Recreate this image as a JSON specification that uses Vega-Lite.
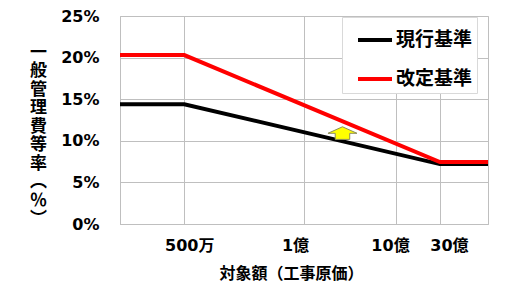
{
  "$schema": "https://vega.github.io/schema/vega-lite/v6.json",
  "width": 368,
  "height": 208,
  "autosize": {"type": "none"},
  "padding": {"left": 120, "top": 16, "right": 40, "bottom": 70},
  "background": "white",
  "config": {
    "view": {"stroke": "#bfbfbf", "strokeWidth": 1},
    "font": "DejaVu Sans"
  },
  "datasets": {
    "lines": [
      {"series": "現行基準", "amount": 1000000, "rate": 0.144},
      {"series": "現行基準", "amount": 5000000, "rate": 0.144},
      {"series": "現行基準", "amount": 3000000000, "rate": 0.072},
      {"series": "現行基準", "amount": 10000000000, "rate": 0.072},
      {"series": "改定基準", "amount": 1000000, "rate": 0.203},
      {"series": "改定基準", "amount": 5000000, "rate": 0.203},
      {"series": "改定基準", "amount": 3000000000, "rate": 0.0745},
      {"series": "改定基準", "amount": 10000000000, "rate": 0.0745}
    ],
    "arrow": [
      {"amount": 262000000, "rate": 0.109}
    ]
  },
  "layer": [
    {
      "data": {"name": "lines"},
      "mark": {"type": "line", "strokeWidth": 4, "clip": true},
      "encoding": {
        "x": {
          "field": "amount", "type": "quantitative",
          "scale": {"type": "log", "domain": [1000000, 10000000000], "nice": false},
          "axis": {
            "values": [5000000, 100000000, 1000000000, 3000000000],
            "labelExpr": "datum.value == 5000000 ? '500万' : datum.value == 100000000 ? '1億' : datum.value == 1000000000 ? '10億' : '30億'",
            "grid": true, "gridColor": "#bfbfbf", "gridWidth": 1,
            "domainColor": "#bfbfbf", "ticks": false,
            "labelFont": "DejaVu Sans, Noto Sans CJK JP", "labelFontWeight": "bold", "labelFontSize": 16,
            "labelColor": "black", "labelPadding": 13, "labelBaseline": "top",
            "labelOffset": {"condition": [
              {"test": "datum.value < 10000000", "value": 5},
              {"test": "datum.value < 200000000", "value": -9},
              {"test": "datum.value < 2000000000", "value": -6}
            ], "value": 9},
            "title": "対象額（工事原価）",
            "titleFont": "Noto Sans CJK JP", "titleFontWeight": "bold", "titleFontSize": 16,
            "titleColor": "black", "titleX": 171, "titleY": 49, "titleBaseline": "middle", "titleAlign": "center"
          }
        },
        "y": {
          "field": "rate", "type": "quantitative",
          "scale": {"domain": [0, 0.25], "nice": false},
          "axis": {
            "values": [0, 0.05, 0.1, 0.15, 0.2, 0.25],
            "format": ".0%",
            "grid": true, "gridColor": "#bfbfbf", "gridWidth": 1,
            "domainColor": "#bfbfbf", "ticks": false,
            "labelFont": "DejaVu Sans", "labelFontWeight": "bold", "labelFontSize": 16,
            "labelColor": "black", "labelPadding": 21,
            "title": ["一", "般", "管", "理", "費", "等", "率", "︵", "％", "︶"],
            "titleAngle": 0, "titleAlign": "center", "titleBaseline": "top",
            "titleX": -82, "titleY": 28, "titleLineHeight": 18.5,
            "titleFont": "Noto Sans CJK JP", "titleFontWeight": "bold", "titleFontSize": 17, "titleColor": "black"
          }
        },
        "color": {
          "field": "series", "type": "nominal",
          "scale": {"domain": ["現行基準", "改定基準"], "range": ["#000000", "#ff0000"]},
          "legend": {
            "title": null, "orient": "none", "legendX": 222, "legendY": 1,
            "fillColor": "white", "strokeColor": "#d9d9d9", "padding": 4,
            "symbolType": "stroke", "symbolSize": 1156, "symbolStrokeWidth": 4, "symbolOffset": 10,
            "labelFont": "Noto Sans CJK JP", "labelFontWeight": "bold", "labelFontSize": 19,
            "labelColor": "black", "labelOffset": 2, "rowPadding": 10
          }
        },
        "order": {"field": "amount", "type": "quantitative"}
      }
    },
    {
      "data": {"name": "arrow"},
      "mark": {
        "type": "point",
        "shape": "M0,-0.45 L1,0 L0.5,0 L0.5,0.42 L-0.5,0.42 L-0.5,0 L-1,0 Z",
        "size": 841, "filled": true, "fill": "#ffff00", "stroke": "#8c8c5a", "strokeWidth": 1, "opacity": 1
      },
      "encoding": {
        "x": {"field": "amount", "type": "quantitative"},
        "y": {"field": "rate", "type": "quantitative"}
      }
    }
  ]
}
